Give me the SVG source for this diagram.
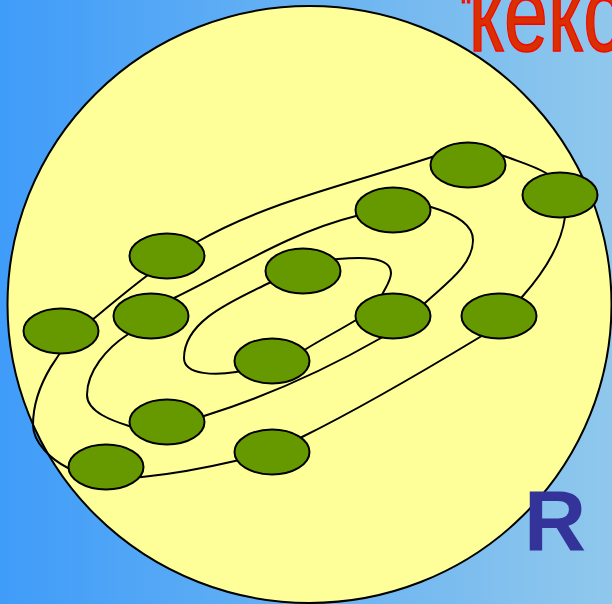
<svg xmlns="http://www.w3.org/2000/svg" width="612" height="604" viewBox="0 0 612 604">
  <defs>
    <linearGradient id="bg" x1="0" y1="0" x2="1" y2="0">
      <stop offset="0" stop-color="#3f9cf9"/>
      <stop offset="1" stop-color="#90c8ec"/>
    </linearGradient>
  </defs>
  <style>
    .orbit { fill: none; stroke: #000; stroke-width: 2; }
    .node ellipse { fill: #669900; stroke: #000; stroke-width: 2; }
    .title { font-family: "Liberation Sans", Arial, sans-serif; font-size: 108px; fill: #d83000; stroke: #ff0000; stroke-width: 1.5; }
    .mark { font-family: "Liberation Sans", Arial, sans-serif; font-size: 86px; font-weight: bold; fill: #333399; }
  </style>
  <rect x="0" y="0" width="612" height="604" fill="url(#bg)"/>
  <ellipse id="sphere" cx="309.5" cy="304.5" rx="302" ry="298.5" fill="#ffff99" stroke="#000" stroke-width="2"/>
  <g id="connectors">
    <path id="outer" class="orbit" d="M33,425 C33,385 61,345 92,320 C126,292 159,264 197,242 C269,201 353,183 432,157 C456,149 484,147.5 507,157 C520,162 534,166 546,173 C560,181 567,201 565,217 C561,247 542,274.5 522,297 C509,311 496,327 480,337 C422,372 363,407 302,437 C280,448 258,456 235,461 C205,468 173,474 142,477 C117,479 90,479 68,468 C52,460 33,443 33,425 Z"/>
    <path id="middle" class="orbit" d="M127,335 C144,324 156,307 174,298 C234,269 291,232 356,216 C380,210 407,200.5 431,207 C448,212 473,222 473,240 C473,266 444,285 425,303 C411,316 397,328.5 381,338 C325,370 265,397 204,416 C180,423 153,433 129,426 C113,421 87,412 87,395 C87,371 107,348 127,335 Z"/>
    <path id="inner" class="orbit" d="M269,283 C291,272 314,261 338,259 C356,257.5 391,255 391,273 C391,280 386,287 383,293 C378,305 367,313.5 356,320 C340,330 322,339 306,349 C285,361 261,368 236,372 C218,375 184,376 184,358 C184,320 235,300 269,283 Z"/>
  </g>
  <g id="n1" class="node"><ellipse cx="468" cy="165" rx="37.5" ry="22.5"/></g>
  <g id="n2" class="node"><ellipse cx="560" cy="195" rx="37.5" ry="22.5"/></g>
  <g id="n3" class="node"><ellipse cx="393" cy="210" rx="37.5" ry="22.5"/></g>
  <g id="n4" class="node"><ellipse cx="167" cy="256" rx="37.5" ry="22.5"/></g>
  <g id="n5" class="node"><ellipse cx="303" cy="271" rx="37.5" ry="22.5"/></g>
  <g id="n6" class="node"><ellipse cx="61" cy="331" rx="37.5" ry="22.5"/></g>
  <g id="n7" class="node"><ellipse cx="151" cy="316" rx="37.5" ry="22.5"/></g>
  <g id="n8" class="node"><ellipse cx="393" cy="316" rx="37.5" ry="22.5"/></g>
  <g id="n9" class="node"><ellipse cx="499" cy="316" rx="37.5" ry="22.5"/></g>
  <g id="n10" class="node"><ellipse cx="272" cy="361" rx="37.5" ry="22.5"/></g>
  <g id="n11" class="node"><ellipse cx="167" cy="422" rx="37.5" ry="22.5"/></g>
  <g id="n12" class="node"><ellipse cx="106" cy="467" rx="37.5" ry="22.5"/></g>
  <g id="n13" class="node"><ellipse cx="272" cy="452" rx="37.5" ry="22.5"/></g>
  <text class="title" transform="scale(0.73,1)"><tspan x="631.5" y="22" font-size="40">"</tspan><tspan x="642" y="51">кекс</tspan></text>
  <text class="mark" x="524" y="550">R</text>
</svg>
